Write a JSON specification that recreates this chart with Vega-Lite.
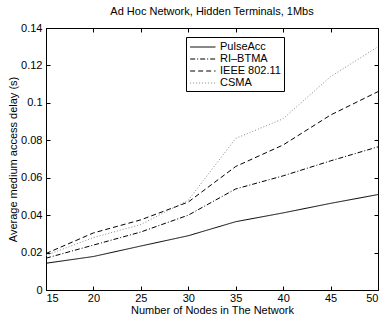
{
  "$schema": "https://vega.github.io/schema/vega-lite/v6.json",
  "autosize": {"type": "none"},
  "width": 332,
  "height": 262,
  "padding": {"left": 46, "top": 28, "right": 7, "bottom": 30},
  "background": "white",
  "title": {"text": "Ad Hoc Network, Hidden Terminals, 1Mbs", "font": "Liberation Sans", "fontSize": 11, "fontWeight": "normal", "color": "black", "offset": 5},
  "config": {
    "view": {"stroke": "black", "strokeWidth": 1},
    "axis": {"labelFont": "Liberation Sans", "titleFont": "Liberation Sans", "labelFontSize": 11, "titleFontSize": 11, "titleFontWeight": "normal", "labelColor": "black", "titleColor": "black", "domainColor": "black", "tickColor": "black", "grid": false, "tickSize": -4}
  },
  "data": {"values": [
    {"n": 15, "s": "PulseAcc", "d": 0.0143},
    {"n": 20, "s": "PulseAcc", "d": 0.0179},
    {"n": 25, "s": "PulseAcc", "d": 0.0235},
    {"n": 30, "s": "PulseAcc", "d": 0.029},
    {"n": 35, "s": "PulseAcc", "d": 0.0365},
    {"n": 40, "s": "PulseAcc", "d": 0.0412},
    {"n": 45, "s": "PulseAcc", "d": 0.0463},
    {"n": 50, "s": "PulseAcc", "d": 0.051},
    {"n": 15, "s": "RI\u2013BTMA", "d": 0.017},
    {"n": 20, "s": "RI\u2013BTMA", "d": 0.024},
    {"n": 25, "s": "RI\u2013BTMA", "d": 0.031},
    {"n": 30, "s": "RI\u2013BTMA", "d": 0.040},
    {"n": 35, "s": "RI\u2013BTMA", "d": 0.054},
    {"n": 40, "s": "RI\u2013BTMA", "d": 0.061},
    {"n": 45, "s": "RI\u2013BTMA", "d": 0.069},
    {"n": 50, "s": "RI\u2013BTMA", "d": 0.0765},
    {"n": 15, "s": "IEEE 802.11", "d": 0.0195},
    {"n": 20, "s": "IEEE 802.11", "d": 0.0305},
    {"n": 25, "s": "IEEE 802.11", "d": 0.0375},
    {"n": 30, "s": "IEEE 802.11", "d": 0.047},
    {"n": 35, "s": "IEEE 802.11", "d": 0.066},
    {"n": 40, "s": "IEEE 802.11", "d": 0.0775},
    {"n": 45, "s": "IEEE 802.11", "d": 0.0935},
    {"n": 50, "s": "IEEE 802.11", "d": 0.106},
    {"n": 15, "s": "CSMA", "d": 0.0185},
    {"n": 20, "s": "CSMA", "d": 0.028},
    {"n": 25, "s": "CSMA", "d": 0.035},
    {"n": 30, "s": "CSMA", "d": 0.048},
    {"n": 35, "s": "CSMA", "d": 0.081},
    {"n": 40, "s": "CSMA", "d": 0.0915},
    {"n": 45, "s": "CSMA", "d": 0.114},
    {"n": 50, "s": "CSMA", "d": 0.13}
  ]},
  "resolve": {"axis": {"x": "independent", "y": "independent"}},
  "layer": [
    {
      "mark": {"type": "line", "strokeWidth": 1, "clip": true},
      "encoding": {
        "x": {"field": "n", "type": "quantitative", "scale": {"domain": [15, 50], "nice": false, "zero": false},
              "axis": {"title": "Number of Nodes in The Network", "values": [15, 20, 25, 30, 35, 40, 45, 50], "labelPadding": 6, "titlePadding": 1}},
        "y": {"field": "d", "type": "quantitative", "scale": {"domain": [0, 0.14], "nice": false},
              "axis": {"title": "Average medium access delay (s)", "values": [0, 0.02, 0.04, 0.06, 0.08, 0.1, 0.12, 0.14], "format": "~g", "labelPadding": 8, "titlePadding": 2}},
        "color": {"field": "s", "type": "nominal", "scale": {"domain": ["PulseAcc", "RI\u2013BTMA", "IEEE 802.11", "CSMA"], "range": ["black", "black", "black", "#888888"]},
                  "legend": {"title": null, "orient": "none", "legendX": 140, "legendY": 9, "strokeColor": "black", "fillColor": "white", "padding": 3, "symbolType": "M-0.9,0H3", "symbolSize": 169, "symbolStrokeWidth": 1, "labelFont": "Liberation Sans", "labelFontSize": 11, "labelColor": "black", "rowPadding": 0, "labelOffset": 17, "cornerRadius": 0}},
        "strokeDash": {"field": "s", "type": "nominal", "scale": {"domain": ["PulseAcc", "RI\u2013BTMA", "IEEE 802.11", "CSMA"], "range": [[1, 0], [5, 2, 1, 2], [5, 3], [1, 2]]},
                  "legend": {"title": null, "orient": "none", "legendX": 140, "legendY": 9, "strokeColor": "black", "fillColor": "white", "padding": 3, "symbolType": "M-0.9,0H3", "symbolSize": 169, "symbolStrokeWidth": 1, "labelFont": "Liberation Sans", "labelFontSize": 11, "labelColor": "black", "rowPadding": 0, "labelOffset": 17, "cornerRadius": 0}}
      }
    },
    {
      "mark": {"type": "line", "opacity": 0},
      "encoding": {
        "x": {"field": "n", "type": "quantitative", "axis": {"orient": "top", "labels": false, "title": null, "values": [15, 20, 25, 30, 35, 40, 45, 50]}},
        "y": {"field": "d", "type": "quantitative", "axis": {"orient": "right", "labels": false, "title": null, "values": [0, 0.02, 0.04, 0.06, 0.08, 0.1, 0.12, 0.14]}},
        "detail": {"field": "s"}
      }
    }
  ]
}
